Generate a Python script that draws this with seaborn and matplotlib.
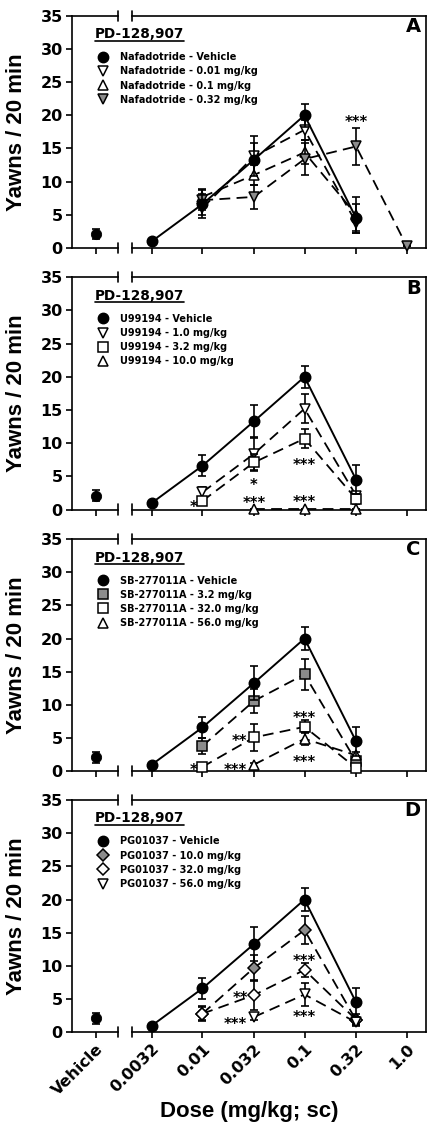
import numpy as np
import pandas as pd
import seaborn as sns
import matplotlib.pyplot as plt
from matplotlib.lines import Line2D
from matplotlib.ticker import NullLocator

# dose axis
doses = [0.0032, 0.01, 0.032, 0.1, 0.32, 1.0]
dose_labels = ['0.0032', '0.01', '0.032', '0.1', '0.32', '1.0']

# PD-128,907 alone (same curve in each panel)
veh_mean = 2.1
veh_err = 0.8
ctrl_x = [0.0032, 0.01, 0.032, 0.1, 0.32]
ctrl = [1.0, 6.6, 13.3, 20.0, 4.5]
ctrl_err = [0.2, 1.6, 2.5, 1.7, 2.2]

# A - nafadotride
naf_x = [0.01, 0.032, 0.1, 0.32]
naf_001 = [6.0, 13.8, 17.8, 3.8]
naf_001_err = [1.5, 3.0, 1.5, 1.2]
naf_01 = [7.7, 11.0, 14.4, 5.0]
naf_01_err = [1.2, 1.5, 1.8, 2.7]
naf_032_x = [0.01, 0.032, 0.1, 0.32, 1.0]
naf_032 = [7.2, 7.7, 13.4, 15.3, 0.3]
naf_032_err = [1.5, 1.8, 2.4, 2.8, 0.0]

# B - U99194
u_x = [0.01, 0.032, 0.1, 0.32]
u_10 = [2.6, 8.4, 15.2, 2.1]
u_10_err = [0.8, 2.5, 2.2, 0.5]
u_32 = [1.3, 7.1, 10.7, 1.6]
u_32_err = [0.5, 1.3, 1.4, 0.8]
u_100_x = [0.032, 0.1, 0.32]
u_100 = [0.15, 0.15, 0.15]
u_100_err = [0.0, 0.0, 0.0]

# C - SB-277011A
sb_x = [0.01, 0.032, 0.1, 0.32]
sb_32 = [3.8, 10.6, 14.6, 1.5]
sb_32_err = [1.2, 1.8, 2.3, 0.5]
sb_320 = [0.65, 5.1, 6.7, 0.5]
sb_320_err = [0.3, 2.0, 1.0, 0.3]
sb_560_x = [0.032, 0.1, 0.32]
sb_560 = [1.0, 4.9, 2.4]
sb_560_err = [0.3, 1.0, 0.5]

# D - PG01037
pg_x = [0.01, 0.032, 0.1, 0.32]
pg_100 = [2.8, 9.7, 15.4, 1.8]
pg_100_err = [1.0, 2.0, 2.1, 0.5]
pg_320 = [2.8, 5.6, 9.4, 1.9]
pg_320_err = [1.1, 2.3, 1.1, 0.8]
pg_560_x = [0.032, 0.1, 0.32]
pg_560 = [2.3, 5.7, 1.5]
pg_560_err = [0.5, 1.7, 0.5]

# significance marks: dose, y, text, x shift (pt)
stars_a = [(0.32, 19.5, '***', 0)]
stars_b = [(0.01, 1.0, '*', -6.5), (0.032, 4.2, '*', 0), (0.032, 1.6, '***', 0),
           (0.1, 7.25, '***', 0), (0.1, 1.7, '***', 0)]
stars_c = [(0.01, 0.75, '*', -6.5), (0.032, 5.1, '**', -10.4), (0.032, 0.75, '***', -13.2),
           (0.1, 8.6, '***', 0), (0.1, 1.9, '***', 0)]
stars_d = [(0.032, 5.7, '**', -9.6), (0.032, 1.8, '***', -13.2),
           (0.1, 11.3, '***', 0), (0.1, 2.8, '***', 0)]

grey = '#8c8c8c'
dash = (0, (6, 3.5))

panels = [
    ('A', 'Nafadotride', [
        ('0.01 mg/kg', naf_x, naf_001, naf_001_err, 'v', 'white', 7.5),
        ('0.1 mg/kg', naf_x, naf_01, naf_01_err, '^', 'white', 7.5),
        ('0.32 mg/kg', naf_032_x, naf_032, naf_032_err, 'v', grey, 7.5)], stars_a),
    ('B', 'U99194', [
        ('1.0 mg/kg', u_x, u_10, u_10_err, 'v', 'white', 7.5),
        ('3.2 mg/kg', u_x, u_32, u_32_err, 's', 'white', 6.5),
        ('10.0 mg/kg', u_100_x, u_100, u_100_err, '^', 'white', 7.5)], stars_b),
    ('C', 'SB-277011A', [
        ('3.2 mg/kg', sb_x, sb_32, sb_32_err, 's', grey, 6.5),
        ('32.0 mg/kg', sb_x, sb_320, sb_320_err, 's', 'white', 6.5),
        ('56.0 mg/kg', sb_560_x, sb_560, sb_560_err, '^', 'white', 7.5)], stars_c),
    ('D', 'PG01037', [
        ('10.0 mg/kg', pg_x, pg_100, pg_100_err, 'D', grey, 6.5),
        ('32.0 mg/kg', pg_x, pg_320, pg_320_err, 'D', 'white', 6.5),
        ('56.0 mg/kg', pg_560_x, pg_560, pg_560_err, 'v', 'white', 7.5)], stars_d),
]

sns.set_style('ticks')
plt.rcParams['font.family'] = ['DejaVu Sans']
plt.rcParams['font.weight'] = 'bold'
plt.rcParams['axes.linewidth'] = 1.2
for key in ('text.color', 'axes.labelcolor', 'xtick.color', 'ytick.color', 'axes.edgecolor'):
    plt.rcParams[key] = 'black'

W, H = 431, 1128
fig = plt.figure(figsize=(W / 100, H / 100), dpi=100)
tops = [15.7, 277.3, 539.0, 800.0]
ph = 232.3


def draw_series(ax, x, y, err, marker, face, ms, ls, lw, z):
    ax.errorbar(x, y, yerr=err, fmt='none', ecolor='black', elinewidth=1.2,
                capsize=3, capthick=1.2, zorder=z, clip_on=False)
    sns.lineplot(x=x, y=y, ax=ax, errorbar=None, legend=False, color='black',
                 linestyle=ls, linewidth=lw, marker=marker, markersize=ms,
                 markerfacecolor=face, markeredgecolor='black', markeredgewidth=1.1,
                 zorder=z + 0.5, clip_on=False)


def break_marks(ax, xpos):
    for yy in (0, 1):
        ax.plot([xpos, xpos], [yy - 0.022, yy + 0.022], transform=ax.transAxes,
                color='black', lw=1.2, clip_on=False)


titles = []
for i, (letter, drug, series, stars) in enumerate(panels):
    top = tops[i]
    bottom = H - top - ph
    axl = fig.add_axes([71.7 / W, bottom / H, 46.3 / W, ph / H])
    axr = fig.add_axes([132 / W, bottom / H, 294 / W, ph / H])
    axr.set_xscale('log')

    for ax in (axl, axr):
        ax.set_ylim(0, 35)
        ax.tick_params(axis='both', length=4.5, width=1.2, labelsize=11.5, pad=2)
    axl.set_xlim(-0.525, 0.475)
    axr.set_xlim(0.00205, 1.545)
    axl.spines['right'].set_visible(False)
    axr.spines['left'].set_visible(False)
    axl.set_yticks(np.arange(0, 36, 5))
    axr.set_yticks([])
    axr.tick_params(left=False, labelleft=False)
    break_marks(axl, 1)
    break_marks(axr, 0)

    # vehicle point
    axl.errorbar([0], [veh_mean], yerr=[veh_err], fmt='none', ecolor='black',
                 elinewidth=1.2, capsize=3, capthick=1.2, zorder=3)
    sns.scatterplot(x=[0], y=[veh_mean], ax=axl, color='black', s=55,
                    edgecolor='black', zorder=4, legend=False)

    # PD-128,907 alone
    draw_series(axr, ctrl_x, ctrl, ctrl_err, 'o', 'black', 7.5, '-', 1.4, 6)
    handles = [Line2D([], [], ls='none', marker='o', ms=7.5, mfc='black', mec='black')]
    labels = [f'{drug} - Vehicle']
    for j, (lab, x, y, err, mk, face, ms) in enumerate(series):
        draw_series(axr, x, y, err, mk, face, ms, dash, 1.3, 3 + j)
        handles.append(Line2D([], [], ls='none', marker=mk, ms=ms, mfc=face,
                              mec='black', mew=1.1))
        labels.append(f'{drug} - {lab}')

    for dx, yv, txt, shift in stars:
        axr.annotate(txt, xy=(dx, yv), xytext=(shift, -6.2), textcoords='offset points',
                     ha='center', va='baseline', fontsize=10.5, fontweight='bold',
                     zorder=10, annotation_clip=False)

    axl.set_xticks([0])
    axr.set_xticks(doses)
    axr.xaxis.set_minor_locator(NullLocator())
    if i == 3:
        axl.set_xticklabels(['Vehicle'], rotation=45, ha='right', rotation_mode='anchor')
        axr.set_xticklabels(dose_labels, rotation=45, ha='right', rotation_mode='anchor')
    else:
        axl.set_xticklabels([])
        axr.set_xticklabels([])

    fig.legend(handles, labels, loc='upper left',
               bbox_to_anchor=(97.2 / W, 1 - (top + 36.5) / H),
               frameon=False, prop={'size': 7, 'weight': 'bold'},
               handlelength=1.2, handletextpad=1.1, labelspacing=0.43,
               borderpad=0, borderaxespad=0)

    t = fig.text(95 / W, 1 - (top + 18.5) / H, 'PD-128,907', ha='left', va='center',
                 fontsize=9.8, fontweight='bold')
    titles.append(t)
    axr.text(0.982, 0.994, letter, transform=axr.transAxes, ha='right', va='top',
             fontsize=14, fontweight='bold')

    fig.text(17 / W, 1 - (top + ph / 2) / H, 'Yawns / 20 min', rotation=90,
             ha='center', va='center', fontsize=16, fontweight='bold',
             family='Liberation Sans')

fig.text(249 / W, 1 - 1112 / H, 'Dose (mg/kg; sc)', ha='center', va='center',
         fontsize=16, fontweight='bold', family='Liberation Sans')

# underline the panel titles
fig.canvas.draw()
r = fig.canvas.get_renderer()
for t in titles:
    bb = t.get_window_extent(r).transformed(fig.transFigure.inverted())
    fig.add_artist(Line2D([bb.x0, bb.x1], [bb.y0 + 0.0005, bb.y0 + 0.0005],
                          transform=fig.transFigure, color='black', lw=1.2))

fig.savefig('out.png', dpi=100)
